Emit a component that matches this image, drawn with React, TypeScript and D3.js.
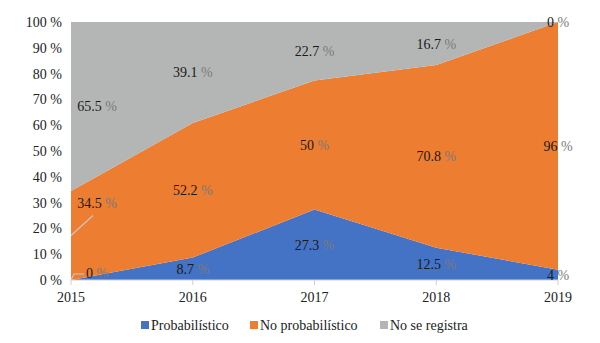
import React from "react";
import * as d3 from "d3";

const years = ["2015", "2016", "2017", "2018", "2019"];
const probabilistico = [0, 8.7, 27.3, 12.5, 4];
const noProbabilistico = [34.5, 52.2, 50, 70.8, 96];
const noSeRegistra = [65.5, 39.1, 22.7, 16.7, 0];
const seriesNames = ["Probabilístico", "No probabilístico", "No se registra"];
const colors = ["#4472C4", "#ED7D31", "#B4B6B5"];
const yTicks = [0, 10, 20, 30, 40, 50, 60, 70, 80, 90, 100];

const W = 600, H = 343;
const margin = { left: 71, right: 42, top: 22, bottom: 63 };
const FONT = "'Liberation Serif', 'DejaVu Serif', serif";

export default function App() {
  const x = d3.scalePoint<string>().domain(years).range([margin.left, W - margin.right]);
  const y = d3.scaleLinear().domain([0, 100]).range([H - margin.bottom, margin.top]);
  const rows = years.map((yr, i) => ({
    year: yr,
    a: probabilistico[i],
    b: noProbabilistico[i],
    c: noSeRegistra[i],
  }));
  const stack = d3.stack<any>().keys(["a", "b", "c"]);
  const series = stack(rows);
  const area = d3
    .area<any>()
    .x((d) => x(d.data.year)!)
    .y0((d) => y(d[0]))
    .y1((d) => y(d[1]));

  const values = [probabilistico, noProbabilistico, noSeRegistra];

  const labels: { x: number; y: number; v: number }[] = [];
  series.forEach((s, si) => {
    s.forEach((d, i) => {
      let lx = x(years[i])!;
      let ly = y((d[0] + d[1]) / 2);
      if (i === 0) lx += 26;
      if (i === 0 && si === 1) ly = 203;
      if (i === 0 && si === 0) { lx = 97; ly = 273; }
      if (i === 4 && si === 0) ly = Math.min(ly, 276);
      labels.push({ x: lx, y: ly, v: values[si][i] });
    });
  });

  const legendItems = [
    { x: 141, name: seriesNames[0], color: colors[0] },
    { x: 250, name: seriesNames[1], color: colors[1] },
    { x: 380, name: seriesNames[2], color: colors[2] },
  ];

  const baseY = y(0);
  const txt = { fontFamily: FONT, fontSize: "14px" };

  return (
    <svg width={W} height={H} style={{ position: "absolute", left: 0, top: 0, background: "#fff", fontFamily: FONT }}>
      {series.map((s, i) => (
        <path key={i} d={area(s as any)!} fill={colors[i]} />
      ))}
      <line x1={margin.left} x2={W - margin.right} y1={baseY} y2={baseY} stroke="#D0D0D0" strokeWidth={1} />
      {years.map((yr) => (
        <line key={yr} x1={x(yr)} x2={x(yr)} y1={baseY} y2={baseY + 5} stroke="#D0D0D0" />
      ))}
      {years.map((yr) => (
        <text key={yr} x={x(yr)} y={baseY + 22} textAnchor="middle" style={txt} fill="#222">
          {yr}
        </text>
      ))}
      {yTicks.map((t) => (
        <text key={t} x={62} y={y(t) + 5} textAnchor="end" style={txt} fill="#222">
          {t} %
        </text>
      ))}
      <polyline points={`${margin.left},${y(17.25)} ${margin.left + 22},${y(17.25) - 20}`} fill="none" stroke="#C8C8C8" strokeWidth={1.2} />
      <polyline points={`${margin.left},${baseY} ${margin.left + 3},${baseY - 6} ${margin.left + 13},${baseY - 6}`} fill="none" stroke="#C8C8C8" strokeWidth={1.2} />
      {labels.map((l, i) => (
        <text key={i} x={l.x} y={l.y + 5} textAnchor="middle" style={txt} fill="#1a1a1a">
          {l.v}
          <tspan fill="#7a7a7a"> %</tspan>
        </text>
      ))}
      {legendItems.map((it) => (
        <g key={it.name}>
          <rect x={it.x} y={321} width={8} height={8} fill={it.color} />
          <text x={it.x + 10} y={330} style={txt} fill="#222">
            {it.name}
          </text>
        </g>
      ))}
    </svg>
  );
}
